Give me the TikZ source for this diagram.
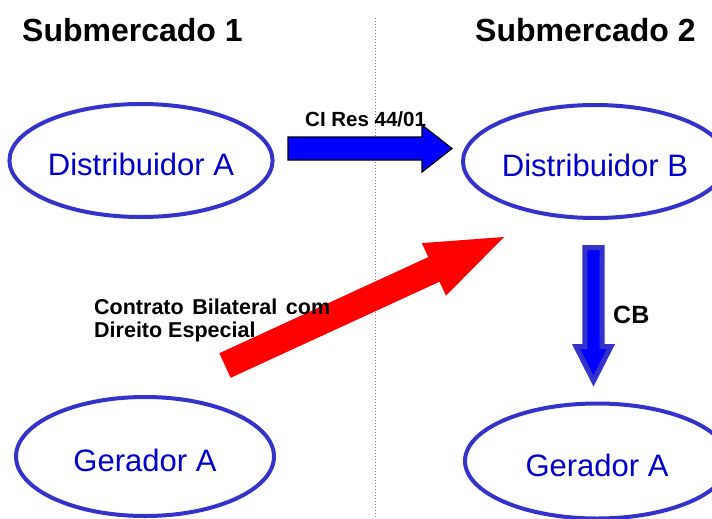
\documentclass[tikz,border=0pt]{standalone}
\usepackage{fontspec}
\setmainfont{Liberation Sans}
\usetikzlibrary{shapes.geometric}

\definecolor{partyline}{RGB}{51,51,204}
\definecolor{partytext}{RGB}{0,0,204}
\definecolor{flowblue}{RGB}{0,0,255}

\begin{document}
\begin{tikzpicture}[x=1pt,y=-1pt,
  party/.style={ellipse,draw=partyline,line width=4pt,inner sep=0pt,text height=30pt,text depth=0pt,text=partytext,font=\fontsize{31}{36}\selectfont},
  heading/.style={anchor=base west,inner sep=0pt,font=\bfseries\fontsize{32}{38}\selectfont},
  tag/.style={anchor=base west,inner sep=0pt,font=\bfseries\fontsize{20.5}{24}\selectfont}]
\useasboundingbox (0,0) rectangle (712,519);
\clip (0,0) rectangle (712,519);
\fill[white] (0,0) rectangle (712,519);

\node(sub1)[heading] at (22,42) {Submercado 1};
\node(sub2)[heading] at (475,42) {Submercado 2};
\coordinate(divtop) at (375,18);
\coordinate(divbot) at (375,519);
\draw[gray,dotted,line width=1pt] (divtop) -- (divbot);

\node(distA)[party,minimum width=258pt,minimum height=113pt] at (141,160.5) {Distribuidor A};
\node(distB)[party,minimum width=264pt,minimum height=113pt] at (595,161.5) {Distribuidor B};
\node(gerA)[party,minimum width=258pt,minimum height=119pt] at (145,456.5) {Gerador A};
\node(gerB)[party,minimum width=264pt,minimum height=115pt] at (597,461) {Gerador A};

% block arrows
\draw[fill=flowblue,draw=black,line width=1.2pt,line join=miter]
  (288,137) -- (422,137) -- (422,125) -- (452,148.5) -- (422,172) -- (422,160) -- (288,160) -- cycle;
\node(ci)[tag] at (305,126) {CI Res 44/01};

\fill[red] (219.4,353.2) -- (428.3,257.1) -- (421.8,243.1) -- (504,237) -- (446,295.7) -- (439.5,281.7) -- (230.6,377.8) -- cycle;
\node(cbe)[anchor=base west,inner sep=0pt,align=left,font=\bfseries\fontsize{21.5}{22.5}\selectfont] at (94,337)
  {\makebox[236pt][s]{Contrato Bilateral com}\\Direito Especial};

\draw[fill=flowblue,draw=partyline,line width=5pt,line join=miter]
  (584.8,247.5) -- (602.2,247.5) -- (602.2,346.5) -- (611,346.5) -- (593.5,381) -- (576,346.5) -- (584.8,346.5) -- cycle;
\node(cb)[tag,font=\bfseries\fontsize{25}{30}\selectfont] at (613,323) {CB};
\end{tikzpicture}
\end{document}
